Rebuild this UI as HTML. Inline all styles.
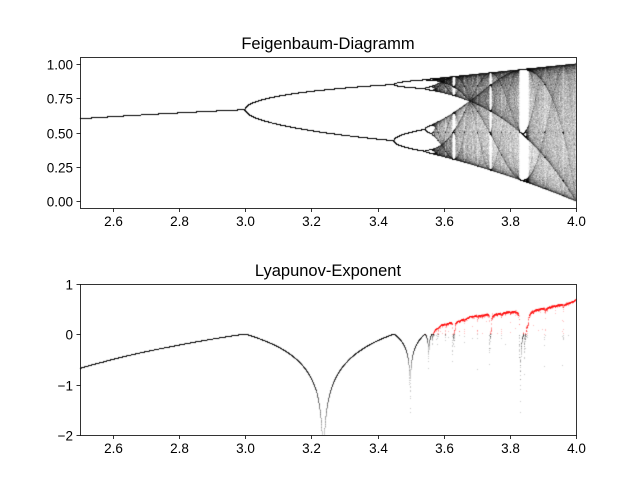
<!DOCTYPE html>
<html><head><meta charset="utf-8"><style>
html,body{margin:0;padding:0;background:#fff;}
#wrap{position:relative;width:640px;height:480px;}
canvas,svg{position:absolute;left:0;top:0;}
text{font-family:"Liberation Sans",sans-serif;fill:#000;}
</style></head><body>
<div id="wrap">
<canvas id="cv" width="640" height="480"></canvas>
<svg id="sv" width="640" height="480"></svg>
</div>
<script>
// Model parameters (logistic map x -> r*x*(1-x))
const rRange = [2.5, 4.0];
const nR = 10000;
const iterations = 1000;
const lastN = 100;
const x0 = 1e-5;
const xTicks = [2.6, 2.8, 3.0, 3.2, 3.4, 3.6, 3.8, 4.0];
const topYTicks = [0.00, 0.25, 0.50, 0.75, 1.00];
const botYTicks = [-2, -1, 0, 1];
const topYRange = [-0.05, 1.05];
const botYRange = [-2, 1];
const titles = ["Feigenbaum-Diagramm", "Lyapunov-Exponent"];

const L = 80, R = 576;
const top1 = 57, bot1 = 208, top2 = 284, bot2 = 435;
const xs = r => L + (r - rRange[0]) / (rRange[1] - rRange[0]) * (R - L);
const y1 = v => bot1 - (v - topYRange[0]) / (topYRange[1] - topYRange[0]) * (bot1 - top1);
const y2 = v => bot2 - (v - botYRange[0]) / (botYRange[1] - botYRange[0]) * (bot2 - top2);

const cv = document.getElementById('cv');
const ctx = cv.getContext('2d');
const W = 640, H = 480;
const dark = new Float32Array(W * H);
const red = new Float32Array(W * H);
dark.fill(1); red.fill(1);
function hit(arr, px, py, a) {
  const ix = Math.floor(px), iy = Math.floor(py);
  if (ix < 0 || ix >= W || iy < 0 || iy >= H) return;
  arr[iy * W + ix] *= (1 - a);
}
for (let i = 0; i < nR; i++) {
  const r = rRange[0] + (rRange[1] - rRange[0]) * i / (nR - 1);
  let x = x0, lyap = 0;
  const px = xs(r);
  for (let k = 0; k < iterations; k++) {
    x = r * x * (1 - x);
    lyap += Math.log(Math.abs(r - 2 * r * x));
    if (k >= iterations - lastN) {
      const py = y1(x);
      if (py >= top1 && py < bot1) hit(dark, px, py, 0.028);
    }
  }
  const l = lyap / iterations;
  const py = y2(l);
  if (py >= top2 && py < bot2) {
    if (l < 0.002) hit(dark, px, py, 0.2); else hit(red, px, py, 0.25);
  }
}
const img = ctx.createImageData(W, H);
for (let p = 0; p < W * H; p++) {
  const d = dark[p], rd = red[p];
  img.data[p*4] = 255 * d;
  img.data[p*4+1] = 255 * d * rd;
  img.data[p*4+2] = 255 * d * rd;
  img.data[p*4+3] = 255;
}
ctx.putImageData(img, 0, 0);

const sv = document.getElementById('sv');
const NS = 'http://www.w3.org/2000/svg';
function el(tag, attrs, txt) {
  const e = document.createElementNS(NS, tag);
  for (const k in attrs) e.setAttribute(k, attrs[k]);
  if (txt !== undefined) e.textContent = txt;
  sv.appendChild(e);
  return e;
}
function axes(t, b, yTicks, yf, fmt, title, prefix) {
  const f = el('rect', {x: L + 0.5, y: t + 0.5, width: R - L, height: b - t, fill: 'none', stroke: '#000', 'stroke-width': 0.8});
  
  
  xTicks.forEach(v => {
    const x = Math.round(xs(v)) + 0.5;
    const tk = el('line', {x1: x, x2: x, y1: b + 0.5, y2: b + 4, stroke: '#000', 'stroke-width': 0.8});
    
    
    const lb = el('text', {x: x, y: b + 18, 'font-size': 13.5, 'text-anchor': 'middle'}, v.toFixed(1));
    
    
  });
  yTicks.forEach(v => {
    const y = Math.round(yf(v)) + 0.5;
    const tk = el('line', {x1: L - 3.5, x2: L + 0.5, y1: y, y2: y, stroke: '#000', 'stroke-width': 0.8});
    
    
    const lb = el('text', {x: L - 7, y: y + 5, 'font-size': 13.5, 'text-anchor': 'end'}, fmt(v));
    
    
  });
  const ti = el('text', {x: (L + R) / 2, y: t - 8, 'font-size': 16.5, 'text-anchor': 'middle'}, title);
  
  
}
axes(top1, bot1, topYTicks, y1, v => v.toFixed(2), titles[0], 'bifurcation');
axes(top2, bot2, botYTicks, y2, v => v < 0 ? '\u2212' + Math.abs(v) : String(v), titles[1], 'lyapunov');
</script>
</body></html>
